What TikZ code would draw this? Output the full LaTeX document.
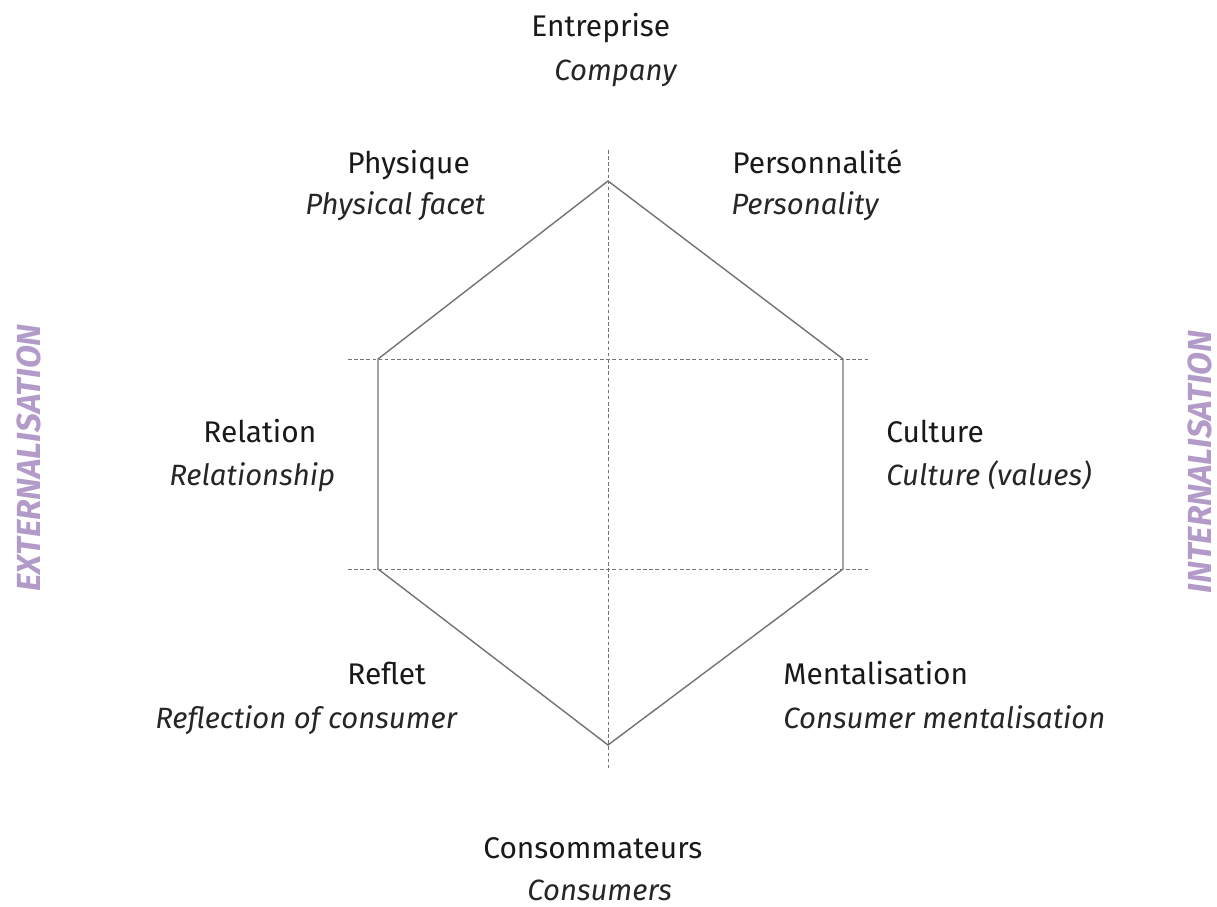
\documentclass[tikz,border=0pt]{standalone}
\usepackage{fontspec}
\setmainfont{Fira Sans}
\usepackage{tikz}

\definecolor{lilac}{RGB}{178,155,200}
\definecolor{edgegray}{RGB}{115,115,115}

\tikzset{
  fr/.style = {anchor=base west, inner sep=0pt, text=black!90,
               font=\fontsize{17}{20}\selectfont},
  en/.style = {anchor=base west, inner sep=0pt, text=black!85,
               font=\fontsize{16.7}{20}\selectfont\itshape},
  axis/.style = {text=lilac, rotate=90, inner sep=0pt,
                 font=\fontsize{19}{22}\selectfont\bfseries\itshape},
  guide/.style = {edgegray, dash pattern=on 2pt off 1.5pt, line width=0.45pt},
  hexline/.style = {edgegray, line width=0.8pt, line join=miter}
}

\begin{document}
\begin{tikzpicture}[%
        x = 0.02cm, y = -0.02cm
    ]
      \useasboundingbox (0,0) rectangle (1217,906);
      % hexagon corners
      \coordinate (top) at (608,181);
      \coordinate (ul) at (378,359);
      \coordinate (ur) at (843,359);
      \coordinate (ll) at (378,569);
      \coordinate (lr) at (843,569);
      \coordinate (bot) at (608,745);
      % guide lines
      \coordinate (vtop) at (608,150);
      \coordinate (vbot) at (608,770);
      \coordinate (h1l) at (348,359);
      \coordinate (h1r) at (868,359);
      \coordinate (h2l) at (348,569);
      \coordinate (h2r) at (868,569);
      \draw[guide] (vtop) -- (vbot);
      \draw[guide] (h1l) -- (h1r);
      \draw[guide] (h2l) -- (h2r);
      \draw[hexline] (top) -- (ur) -- (lr) -- (bot) -- (ll) -- (ul) -- cycle;
      % labels
      \node[fr] (entreprise) at (531,36) {Entreprise};
      \node[en] (company) at (554,80) {Company};
      \node[fr] (physique) at (347,173) {Physique};
      \node[en] (physical) at (305,214) {Physical facet};
      \node[fr] (personnalite) at (732,173) {Personnalité};
      \node[en] (personality) at (731,214) {Personality};
      \node[fr] (relation) at (203,442) {Relation};
      \node[en] (relationship) at (169,485) {Relationship};
      \node[fr] (culture) at (886,442) {Culture};
      \node[en] (values) at (886,485) {Culture (values)};
      \node[fr] (reflet) at (347,684) {Reflet};
      \node[en] (reflection) at (155,728) {Reflection of consumer};
      \node[fr] (mentalisation) at (783,684) {Mentalisation};
      \node[en] (mentalisationen) at (783,728) {Consumer mentalisation};
      \node[fr] (consommateurs) at (483,858) {Consommateurs};
      \node[en] (consumers) at (527,900) {Consumers};
      % side axes
      \node[axis] (externalisation) at (29,458) {EXTERNALISATION};
      \node[axis] (internalisation) at (1200,462) {INTERNALISATION};
    \end{tikzpicture}
\end{document}
